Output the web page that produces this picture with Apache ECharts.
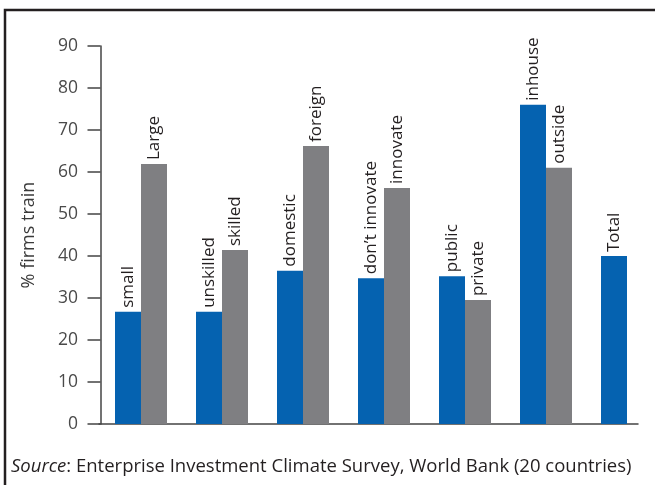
<!DOCTYPE html>
<html>
<head>
<meta charset="utf-8">
<script src="https://cdn.jsdelivr.net/npm/echarts@6/dist/echarts.min.js"></script>
<style>
  html, body { margin: 0; padding: 0; background: #ffffff; }
  #chart { width: 655px; height: 485px; }
</style>
</head>
<body>
<div id="chart"></div>
<script>
// Data
const groupCount = 7;
const blueNames = ['small', 'unskilled', 'domestic', 'don\u2019t innovate', 'public', 'inhouse', 'Total'];
const blueValues = [26.7, 26.7, 36.5, 34.7, 35.2, 76.0, 40.0];
const grayNames = ['Large', 'skilled', 'foreign', 'innovate', 'private', 'outside'];
const grayValues = [61.9, 41.4, 66.2, 56.2, 29.5, 61.0];
const yTicks = [0, 10, 20, 30, 40, 50, 60, 70, 80, 90];
const yAxisName = '% firms train';
const sourceLabel = 'Source';
const sourceText = ': Enterprise Investment Climate Survey, World Bank (20 countries)';

const FONT = 'Open Sans';
const BLUE = '#0562b0';
const GRAY = '#7f7f82';
const AXIS = '#444444';

const chart = echarts.init(document.getElementById('chart'), null, { renderer: 'canvas' });

function labelCfg(names) {
  return {
    show: true,
    position: 'top',
    rotate: 90,
    align: 'left',
    verticalAlign: 'middle',
    distance: 4,
    color: '#231f20',
    fontFamily: FONT,
    fontSize: 17,
    formatter: p => names[p.dataIndex]
  };
}

// x axis in "group" units: 81 px per group, axis line 539 px long
const xMin = -1.5 / 81;
const xMax = xMin + 539 / 81;

chart.setOption({
  backgroundColor: '#ffffff',
  animation: false,
  grid: { left: 99, top: 46, width: 539, height: 378, containLabel: false },
  xAxis: {
    type: 'value',
    min: xMin,
    max: xMax,
    axisLine: { show: true, lineStyle: { color: AXIS, width: 1.5 } },
    axisTick: { show: false },
    axisLabel: { show: false },
    splitLine: { show: false }
  },
  yAxis: {
    type: 'value',
    min: yTicks[0],
    max: yTicks[yTicks.length - 1],
    interval: 10,
    name: yAxisName,
    nameLocation: 'middle',
    nameGap: 61,
    nameRotate: 90,
    nameTextStyle: { fontFamily: FONT, fontSize: 18, color: '#3a3a3a' },
    axisLine: { show: true, lineStyle: { color: AXIS, width: 1.5 } },
    axisTick: { show: true, inside: false, length: 13, lineStyle: { color: AXIS, width: 1.5 } },
    axisLabel: { fontFamily: FONT, fontSize: 17.5, color: '#4a4a4a', margin: 21 },
    splitLine: { show: false }
  },
  series: [
    {
      type: 'bar',
      barWidth: 26,
      barGap: '0%',
      itemStyle: { color: BLUE },
      label: labelCfg(blueNames),
      data: blueValues.map((v, i) => [i + 0.5, v])
    },
    {
      type: 'bar',
      barWidth: 26,
      barGap: '0%',
      itemStyle: { color: GRAY },
      label: labelCfg(grayNames),
      data: grayValues.map((v, i) => [i + 0.5, v])
    }
  ],
  graphic: [
    {
      type: 'rect',
      shape: { x: 5, y: 10, width: 720, height: 520 },
      style: { fill: 'none', stroke: '#231f20', lineWidth: 2.5 },
      silent: true
    },
    {
      type: 'text',
      x: 11,
      y: 467,
      style: {
        text: '{i|' + sourceLabel + '}' + sourceText,
        fontFamily: FONT,
        fontSize: 18.5,
        fill: '#231f20',
        verticalAlign: 'middle',
        rich: {
          i: { fontStyle: 'italic', fontFamily: FONT, fontSize: 18.5, fill: '#231f20' }
        }
      }
    }
  ]
});
</script>
</body>
</html>
